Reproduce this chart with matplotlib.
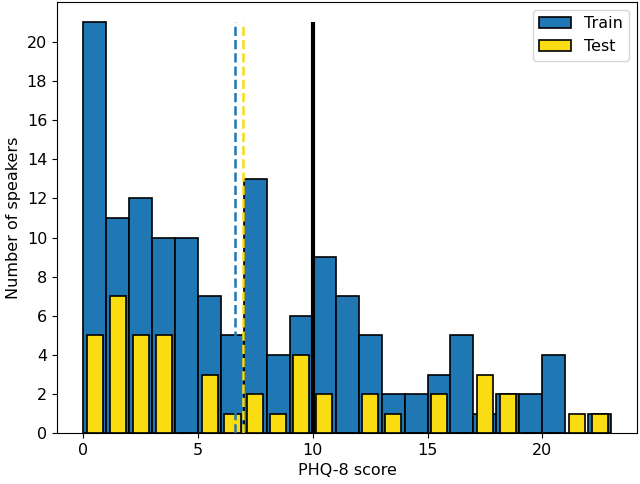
import numpy as np
import matplotlib
matplotlib.use('Agg')
import matplotlib.pyplot as plt

# PHQ-8 score bins (0..23, width 1)
bin_edges = list(range(0, 24))
train_counts = [21, 11, 12, 10, 10, 7, 5, 13, 4, 6, 9, 7, 5, 2, 2, 3, 5, 1, 2, 2, 4, 0, 1]
test_counts = [5, 7, 5, 5, 0, 3, 1, 2, 1, 4, 2, 0, 2, 1, 0, 2, 0, 3, 2, 0, 0, 1, 1]
train_mean = 6.6
test_mean = 6.94
cutoff = 10

bin_left = bin_edges[:-1]

plt.rcParams['font.size'] = 11.5

fig = plt.figure(figsize=(6.4, 4.84), dpi=100)
ax = fig.add_subplot(111)
fig.subplots_adjust(left=0.089, right=0.996, top=0.996, bottom=0.105)

ax.hist(bin_left, bins=bin_edges, weights=train_counts, color='#1f77b4',
        edgecolor='black', linewidth=1.2, label='Train')
ax.hist(bin_left, bins=bin_edges, weights=test_counts, color='#f9dc12',
        edgecolor='black', linewidth=1.2, rwidth=0.7, label='Test')

ymax = max(train_counts)
ax.vlines(train_mean, 0, ymax, colors='#1f77b4', linestyles='--', linewidth=1.8)
ax.vlines(test_mean, 0, ymax, colors='#f9dc12', linestyles='--', linewidth=1.8)
ax.vlines(cutoff, 0, ymax, colors='black', linewidth=3)

ax.set_xlabel('PHQ-8 score')
ax.set_ylabel('Number of speakers')
ax.set_yticks(range(0, 21, 2))
ax.legend(loc='upper right')

plt.savefig('out.png', dpi=100)
